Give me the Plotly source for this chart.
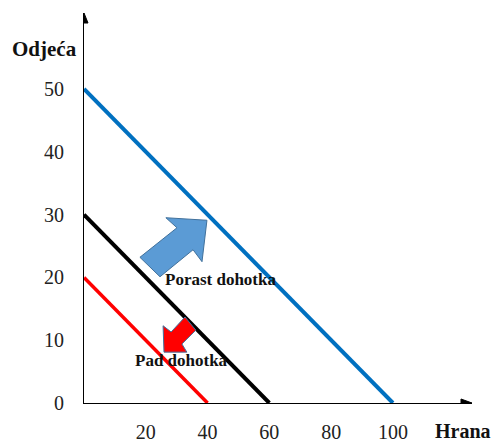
import plotly.graph_objects as go

# Budget lines: intercepts on the food (x) and clothing (y) axes
line_names = ["Porast dohotka", "Početni dohodak", "Pad dohotka"]
food_intercepts = [100, 60, 40]
clothing_intercepts = [50, 30, 20]
line_colors = ["#0070C0", "#000000", "#FF0000"]
line_widths = [4, 4, 3.5]

x_ticks = [20, 40, 60, 80, 100]
y_ticks = [0, 10, 20, 30, 40, 50]

# Block arrows (data coordinates)
up_arrow_x = [39.8, 26.5, 30.1, 18.1, 24.6, 35.3, 38.2]
up_arrow_y = [29.1, 29.5, 27.9, 23.2, 20.1, 24.4, 22.5]
down_arrow_x = [25.9, 25.6, 28.2, 32.7, 36.2, 31.7, 33.3]
down_arrow_y = [8.1, 12.3, 11.3, 13.7, 11.6, 9.4, 8.1]

X_MAX = 125.6
Y_MAX = 62.1

fig = go.Figure()
for name, fx, cy, col, w in zip(line_names, food_intercepts, clothing_intercepts,
                                line_colors, line_widths):
    fig.add_trace(go.Scatter(x=[0, fx], y=[cy, 0], mode="lines", name=name,
                             line=dict(color=col, width=w), showlegend=False,
                             hoverinfo="skip"))

def poly_path(xs, ys):
    return "M " + " L ".join(f"{x},{y}" for x, y in zip(xs, ys)) + " Z"

shapes = [
    dict(type="path", xref="x", yref="y", path=poly_path(up_arrow_x, up_arrow_y),
         fillcolor="#5B9BD5", line=dict(color="#41719C", width=1), layer="above"),
    dict(type="path", xref="x", yref="y", path=poly_path(down_arrow_x, down_arrow_y),
         fillcolor="#FF0000", line=dict(color="#41719C", width=1), layer="above"),
    # axis arrowheads (pixel sized)
    dict(type="path", xref="x", yref="y", xsizemode="pixel", ysizemode="pixel",
         xanchor=0, yanchor=Y_MAX, path="M -4,-10 L 4,-10 L 0,0 Z",
         fillcolor="#000000", line=dict(color="#000000", width=1)),
    dict(type="path", xref="x", yref="y", xsizemode="pixel", ysizemode="pixel",
         xanchor=X_MAX, yanchor=0, path="M -11,-4 L -11,4 L 0,0 Z",
         fillcolor="#000000", line=dict(color="#000000", width=1)),
]

serif = "Liberation Serif, Times New Roman, serif"
annotations = [
    dict(x=44.3, y=19.6, xref="x", yref="y", text="<b>Porast dohotka</b>",
         showarrow=False, font=dict(family=serif, size=17, color="#111111")),
    dict(x=31.4, y=6.8, xref="x", yref="y", text="<b>Pad dohotka</b>",
         showarrow=False, font=dict(family=serif, size=17, color="#111111")),
    dict(x=10, y=49, xref="paper", yref="paper", text="<b>Odjeća</b>",
         showarrow=False, xanchor="left", yanchor="middle",
         font=dict(family=serif, size=21, color="#111111")),
    dict(x=433, y=431, xref="paper", yref="paper", text="<b>Hrana</b>",
         showarrow=False, xanchor="left", yanchor="middle",
         font=dict(family=serif, size=20, color="#111111")),
]

# convert pixel positions for the axis titles to paper coordinates
L, R, T, B = 84, 20, 13, 40
W, H = 492, 443
pw, ph = W - L - R, H - T - B
for a in annotations[2:]:
    a["x"] = (a["x"] - L) / pw
    a["y"] = (H - B - a["y"]) / ph

fig.update_layout(
    width=W, height=H,
    margin=dict(l=L, r=R, t=T, b=B, pad=0, autoexpand=False),
    plot_bgcolor="white", paper_bgcolor="white",
    shapes=shapes, annotations=annotations,
    xaxis=dict(range=[0, X_MAX], tickvals=x_ticks, showgrid=False, zeroline=False,
               showline=True, linecolor="black", linewidth=1, ticks="",
               ticklabelstandoff=11, automargin=False,
               tickfont=dict(family=serif, size=20, color="#222222"), fixedrange=True),
    yaxis=dict(range=[0, Y_MAX], tickvals=y_ticks, showgrid=False, zeroline=False,
               showline=True, linecolor="black", linewidth=1, ticks="",
               ticklabelstandoff=15, automargin=False,
               tickfont=dict(family=serif, size=20, color="#222222"), fixedrange=True),
)

fig.write_html("out.html", config={"displayModeBar": False},
               post_script="document.body.style.margin='0';document.body.style.overflow='hidden';")
